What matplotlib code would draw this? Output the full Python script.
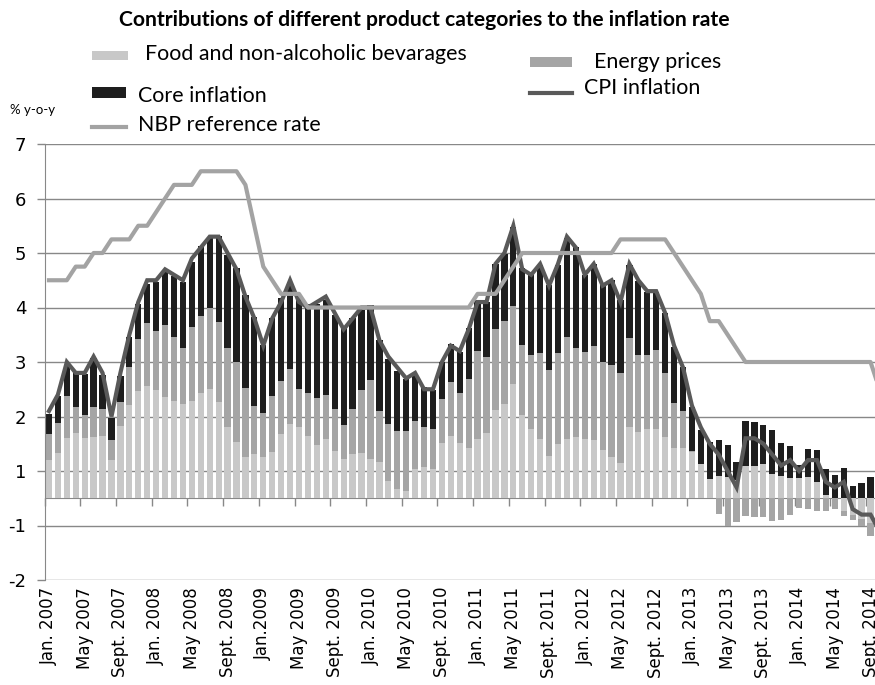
import numpy as np
import matplotlib
matplotlib.use("Agg")
import matplotlib.pyplot as plt
from matplotlib.patches import Rectangle
from matplotlib.lines import Line2D

# monthly contributions, Jan 2007 - Sept 2014 (pp)
food = [0.71, 0.83, 1.10, 1.20, 1.10, 1.13, 1.15, 0.71, 1.32, 1.72, 1.96, 2.06,
        1.98, 1.86, 1.78, 1.73, 1.78, 1.93, 2.00, 1.76, 1.31, 1.03, 0.75, 0.82,
        0.75, 0.84, 1.18, 1.36, 1.30, 1.14, 0.98, 1.09, 0.86, 0.72, 0.82, 0.83,
        0.72, 0.66, 0.32, 0.17, 0.13, 0.53, 0.58, 0.53, 1.02, 1.15, 1.02, 0.93,
        1.09, 1.19, 1.62, 1.73, 2.10, 1.52, 1.27, 1.09, 0.78, 0.99, 1.08, 1.12,
        1.08, 1.07, 0.89, 0.76, 0.64, 1.30, 1.21, 1.27, 1.27, 1.12, 0.92, 0.92,
        0.84, 0.63, 0.36, 0.40, 0.39, 0.33, 0.60, 0.60, 0.63, 0.45, 0.40, 0.37,
        0.37, 0.39, 0.29, 0.06, 0.00, -0.23, -0.30, -0.38, -0.45]
energy = [0.47, 0.55, 0.78, 0.47, 0.42, 0.55, 0.48, 0.36, 0.44, 0.69, 0.97, 1.16,
          1.09, 1.32, 1.18, 1.03, 1.36, 1.41, 1.50, 1.48, 1.44, 1.47, 1.27, 0.88,
          0.81, 1.04, 0.97, 1.02, 0.70, 0.80, 0.86, 0.81, 0.77, 0.62, 0.81, 1.15,
          1.45, 0.95, 1.04, 1.07, 1.11, 0.88, 0.72, 0.74, 0.80, 0.98, 0.91, 1.26,
          1.62, 1.41, 1.49, 1.52, 1.43, 1.30, 1.35, 1.57, 1.58, 1.68, 1.87, 1.64,
          1.60, 1.73, 1.61, 1.69, 1.65, 1.64, 1.42, 1.35, 1.45, 1.18, 0.82, 0.69,
          0.03, 0.00, 0.00, -0.29, -0.50, -0.44, -0.32, -0.34, -0.35, -0.42, -0.40, -0.30,
          -0.17, -0.20, -0.24, -0.23, -0.20, -0.09, -0.10, -0.12, -0.24]
core = [0.37, 0.49, 0.54, 0.64, 0.76, 0.90, 0.64, 0.41, 0.48, 0.54, 0.63, 0.72,
        0.89, 0.99, 1.12, 1.21, 1.19, 1.29, 1.28, 1.58, 1.71, 1.72, 1.71, 1.63,
        1.26, 1.42, 1.53, 1.55, 1.70, 1.62, 1.72, 1.74, 1.74, 1.78, 1.68, 1.47,
        1.37, 1.29, 1.20, 1.10, 0.95, 0.87, 0.74, 0.71, 0.68, 0.70, 0.75, 0.93,
        0.92, 1.00, 1.18, 1.24, 1.44, 1.40, 1.50, 1.62, 1.55, 1.61, 1.83, 1.85,
        1.42, 1.50, 1.42, 1.55, 1.34, 1.34, 1.35, 1.17, 1.06, 1.10, 1.03, 0.79,
        0.80, 0.62, 0.67, 0.66, 0.58, 0.33, 0.81, 0.80, 0.72, 0.81, 0.62, 0.58,
        0.24, 0.52, 0.60, 0.47, 0.42, 0.56, 0.23, 0.28, 0.39]

# Jan 2007 - Oct 2014
cpi = [1.6, 1.9, 2.5, 2.3, 2.3, 2.6, 2.3, 1.5, 2.3, 3.0, 3.6, 4.0,
       4.0, 4.2, 4.1, 4.0, 4.4, 4.6, 4.8, 4.8, 4.5, 4.2, 3.7, 3.3,
       2.8, 3.3, 3.6, 4.0, 3.6, 3.5, 3.6, 3.7, 3.4, 3.1, 3.3, 3.5,
       3.5, 2.9, 2.6, 2.4, 2.2, 2.3, 2.0, 2.0, 2.5, 2.8, 2.7, 3.1,
       3.6, 3.6, 4.3, 4.5, 5.0, 4.2, 4.1, 4.3, 3.9, 4.3, 4.8, 4.6,
       4.1, 4.3, 3.9, 4.0, 3.6, 4.3, 4.0, 3.8, 3.8, 3.4, 2.8, 2.4,
       1.7, 1.3, 1.0, 0.8, 0.5, 0.2, 1.1, 1.1, 1.0, 0.8, 0.6, 0.7,
       0.5, 0.7, 0.7, 0.3, 0.2, 0.3, -0.2, -0.3, -0.3, -0.6]
nbp = [4.0, 4.0, 4.0, 4.25, 4.25, 4.5, 4.5, 4.75, 4.75, 4.75, 5.0, 5.0,
       5.25, 5.5, 5.75, 5.75, 5.75, 6.0, 6.0, 6.0, 6.0, 6.0, 5.75, 5.0,
       4.25, 4.0, 3.75, 3.75, 3.75, 3.5, 3.5, 3.5, 3.5, 3.5, 3.5, 3.5,
       3.5, 3.5, 3.5, 3.5, 3.5, 3.5, 3.5, 3.5, 3.5, 3.5, 3.5, 3.5,
       3.75, 3.75, 3.75, 4.0, 4.25, 4.5, 4.5, 4.5, 4.5, 4.5, 4.5, 4.5,
       4.5, 4.5, 4.5, 4.5, 4.75, 4.75, 4.75, 4.75, 4.75, 4.75, 4.5, 4.25,
       4.0, 3.75, 3.25, 3.25, 3.0, 2.75, 2.5, 2.5, 2.5, 2.5, 2.5, 2.5,
       2.5, 2.5, 2.5, 2.5, 2.5, 2.5, 2.5, 2.5, 2.5, 2.0]

tick_labels = ["Jan. 2007", "May 2007", "Sept. 2007", "Jan. 2008", "May 2008",
               "Sept. 2008", "Jan.2009", "May 2009", "Sept. 2009", "Jan. 2010",
               "May 2010", "Sept. 2010", "Jan. 2011", "May 2011", "Sept. 2011",
               "Jan. 2012", "May 2012", "Sept. 2012", "Jan. 2013", "May 2013",
               "Sept. 2013", "Jan. 2014", "May 2014", "Sept. 2014"]
ytick_pos = [6.5, 5.5, 4.5, 3.5, 2.5, 1.5, 0.5, -0.5, -1.5]
ytick_labels = ["7", "6", "5", "4", "3", "2", "1", "-1", "-2"]

c_food = "#c8c8c8"
c_energy = "#a5a5a5"
c_core = "#1e1e1e"
c_cpi = "#595959"
c_nbp = "#a3a3a3"
c_grid = "#888888"

W, H = 875, 685
fig = plt.figure(figsize=(W / 100, H / 100), dpi=100)
ax = fig.add_axes([44.5 / W, 1 - 580 / H, 1 - 44.5 / W, (580 - 144) / H])

x = np.arange(len(food))
pos = np.zeros(len(food))
neg = np.zeros(len(food))
for vals, col in [(food, c_food), (energy, c_energy), (core, c_core)]:
    v = np.array(vals)
    ax.bar(x, v, bottom=np.where(v >= 0, pos, neg), width=0.7, color=col,
           linewidth=0, zorder=2)
    pos += np.clip(v, 0, None)
    neg += np.clip(v, None, 0)

xl = np.arange(len(cpi))
ax.plot(xl, cpi, color=c_cpi, lw=3, zorder=3, solid_joinstyle="miter")
ax.plot(xl, nbp, color=c_nbp, lw=3, zorder=4)

ax.set_xlim(-0.5, 92.5)
ax.set_ylim(-1.5, 6.5)
ax.set_yticks(ytick_pos, ytick_labels)
ax.yaxis.grid(True, color=c_grid, lw=1, zorder=0)
ax.tick_params(axis="y", length=6, color=c_grid, width=1, pad=7,
               labelsize=13, labelcolor="black")

for s in ["top", "right"]:
    ax.spines[s].set_visible(False)
ax.spines["left"].set_color(c_grid)
ax.spines["bottom"].set_color(c_grid)
ax.spines["bottom"].set_position(("data", 0))
ax.spines["bottom"].set_zorder(1)

ax.set_xticks(np.arange(-0.5, 93, 4))
ax.tick_params(axis="x", length=6, color=c_grid, width=1, labelbottom=False)

sec = ax.secondary_xaxis("bottom")
sec.set_xticks(np.arange(0, 93, 4), tick_labels, rotation=90)
sec.tick_params(length=0, pad=5, labelsize=12)
sec.spines["bottom"].set_visible(False)

# title and legend
def fx(px):
    return px / W

def fy(py):
    return 1 - py / H

fig.text(fx(424), fy(20), "Contributions of different product categories to the inflation rate",
         ha="center", va="center", fontsize=15.2, fontweight="bold", family="Lato")

fig.add_artist(Rectangle((fx(92), fy(60)), fx(36), 9 / H, color=c_food, lw=0))
fig.text(fx(145), fy(54), "Food and non-alcoholic bevarages", va="center",
         fontsize=15.4, family="Lato")
fig.add_artist(Rectangle((fx(530), fy(67)), fx(42), 10 / H, color=c_energy, lw=0))
fig.text(fx(594), fy(62), "Energy prices", va="center", fontsize=15.4, family="Lato")
fig.add_artist(Rectangle((fx(92), fy(98)), fx(34), 11 / H, color=c_core, lw=0))
fig.text(fx(138), fy(96), "Core inflation", va="center", fontsize=15.4, family="Lato")
fig.add_artist(Line2D([fx(530), fx(572)], [fy(93), fy(93)], color=c_cpi, lw=3))
fig.text(fx(584), fy(88), "CPI inflation", va="center", fontsize=15.4, family="Lato")
fig.add_artist(Line2D([fx(92), fx(126)], [fy(127), fy(127)], color=c_nbp, lw=3))
fig.text(fx(138), fy(125), "NBP reference rate", va="center", fontsize=15.4, family="Lato")
fig.text(fx(10), fy(110), "% y-o-y", va="center", fontsize=9.5, family="Lato")

fig.savefig("out.png", dpi=100)
